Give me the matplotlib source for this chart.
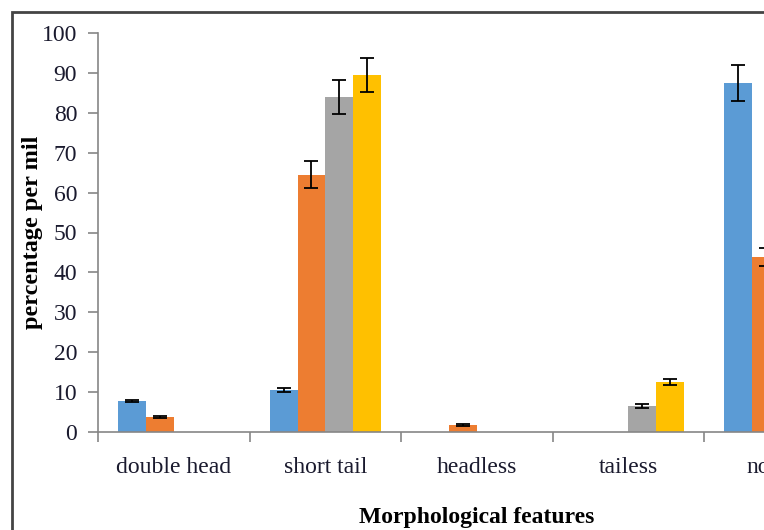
import numpy as np
import matplotlib.pyplot as plt
from matplotlib.patches import Rectangle

# morphological abnormalities, percentage per mil (mean +/- error)
features = ['double head', 'short tail', 'headless', 'tailess', 'normal']
series_a = [7.8, 10.5, 0, 0, 87.5]
series_b = [3.8, 64.5, 1.7, 0, 43.9]
series_c = [0, 84.0, 0, 6.6, np.nan]
series_d = [0, 89.5, 0, 12.6, np.nan]
err_a = [0.3, 0.5, 0, 0, 4.5]
err_b = [0.3, 3.3, 0.3, 0, 2.3]
err_c = [0, 4.2, 0, 0.5, 0]
err_d = [0, 4.3, 0, 0.8, 0]

colors = ['#5B9BD5', '#ED7D31', '#A5A5A5', '#FFC000']
serif = ['Liberation Serif', 'DejaVu Serif']

fig = plt.figure(figsize=(7.64, 5.30), dpi=100)
# axes run past the right edge, so the last group is cut off
ax = fig.add_axes([98/764, 98/530, 757.5/764, 399/530])

x = np.arange(len(features))
w = 0.183
vals = [series_a, series_b, series_c, series_d]
errs = [err_a, err_b, err_c, err_d]
for i in range(4):
    v = np.array(vals[i], dtype=float)
    e = np.array(errs[i], dtype=float)
    pos = x + (i - 1.5) * w
    ax.bar(pos, v, width=w, color=colors[i], zorder=2)
    m = (~np.isnan(v)) & (v > 0)
    ax.errorbar(pos[m], v[m], yerr=e[m], fmt='none', ecolor='black',
                elinewidth=1.3, capsize=5, capthick=1.3, zorder=3)

ax.set_xlim(-0.5, len(features) - 0.5)
ax.set_ylim(0, 100)
ax.set_yticks(range(0, 101, 10))
ax.set_xticks(x)
ax.set_xticklabels(features, fontfamily=serif, fontsize=17)
ax.set_xticks(np.arange(-0.5, len(features), 1), minor=True)
ax.tick_params(axis='x', which='major', length=0, pad=18)
ax.tick_params(axis='x', which='minor', length=7, color='#868686', width=1.2)
ax.tick_params(axis='y', length=7, color='#868686', width=1.2, pad=8,
               labelsize=17, labelcolor='#1a1a2e')
ax.tick_params(axis='x', labelcolor='#1a1a2e')
for lbl in ax.get_yticklabels():
    lbl.set_fontfamily(serif)

for s in ['top', 'right']:
    ax.spines[s].set_visible(False)
for s in ['left', 'bottom']:
    ax.spines[s].set_color('#868686')
    ax.spines[s].set_linewidth(1.2)

ax.set_ylabel('percentage per mil', fontfamily=serif, fontweight='bold',
              fontsize=17.5, labelpad=-1)
ax.set_xlabel('Morphological features', fontfamily=serif, fontweight='bold',
              fontsize=17, labelpad=21)

# outer frame of the chart area
fig.patches.append(Rectangle((12/764, -0.1), 1.2, (530 - 12)/530 + 0.1,
                             transform=fig.transFigure, fill=False,
                             edgecolor='#444444', linewidth=2))

fig.savefig('out.png', dpi=100)
